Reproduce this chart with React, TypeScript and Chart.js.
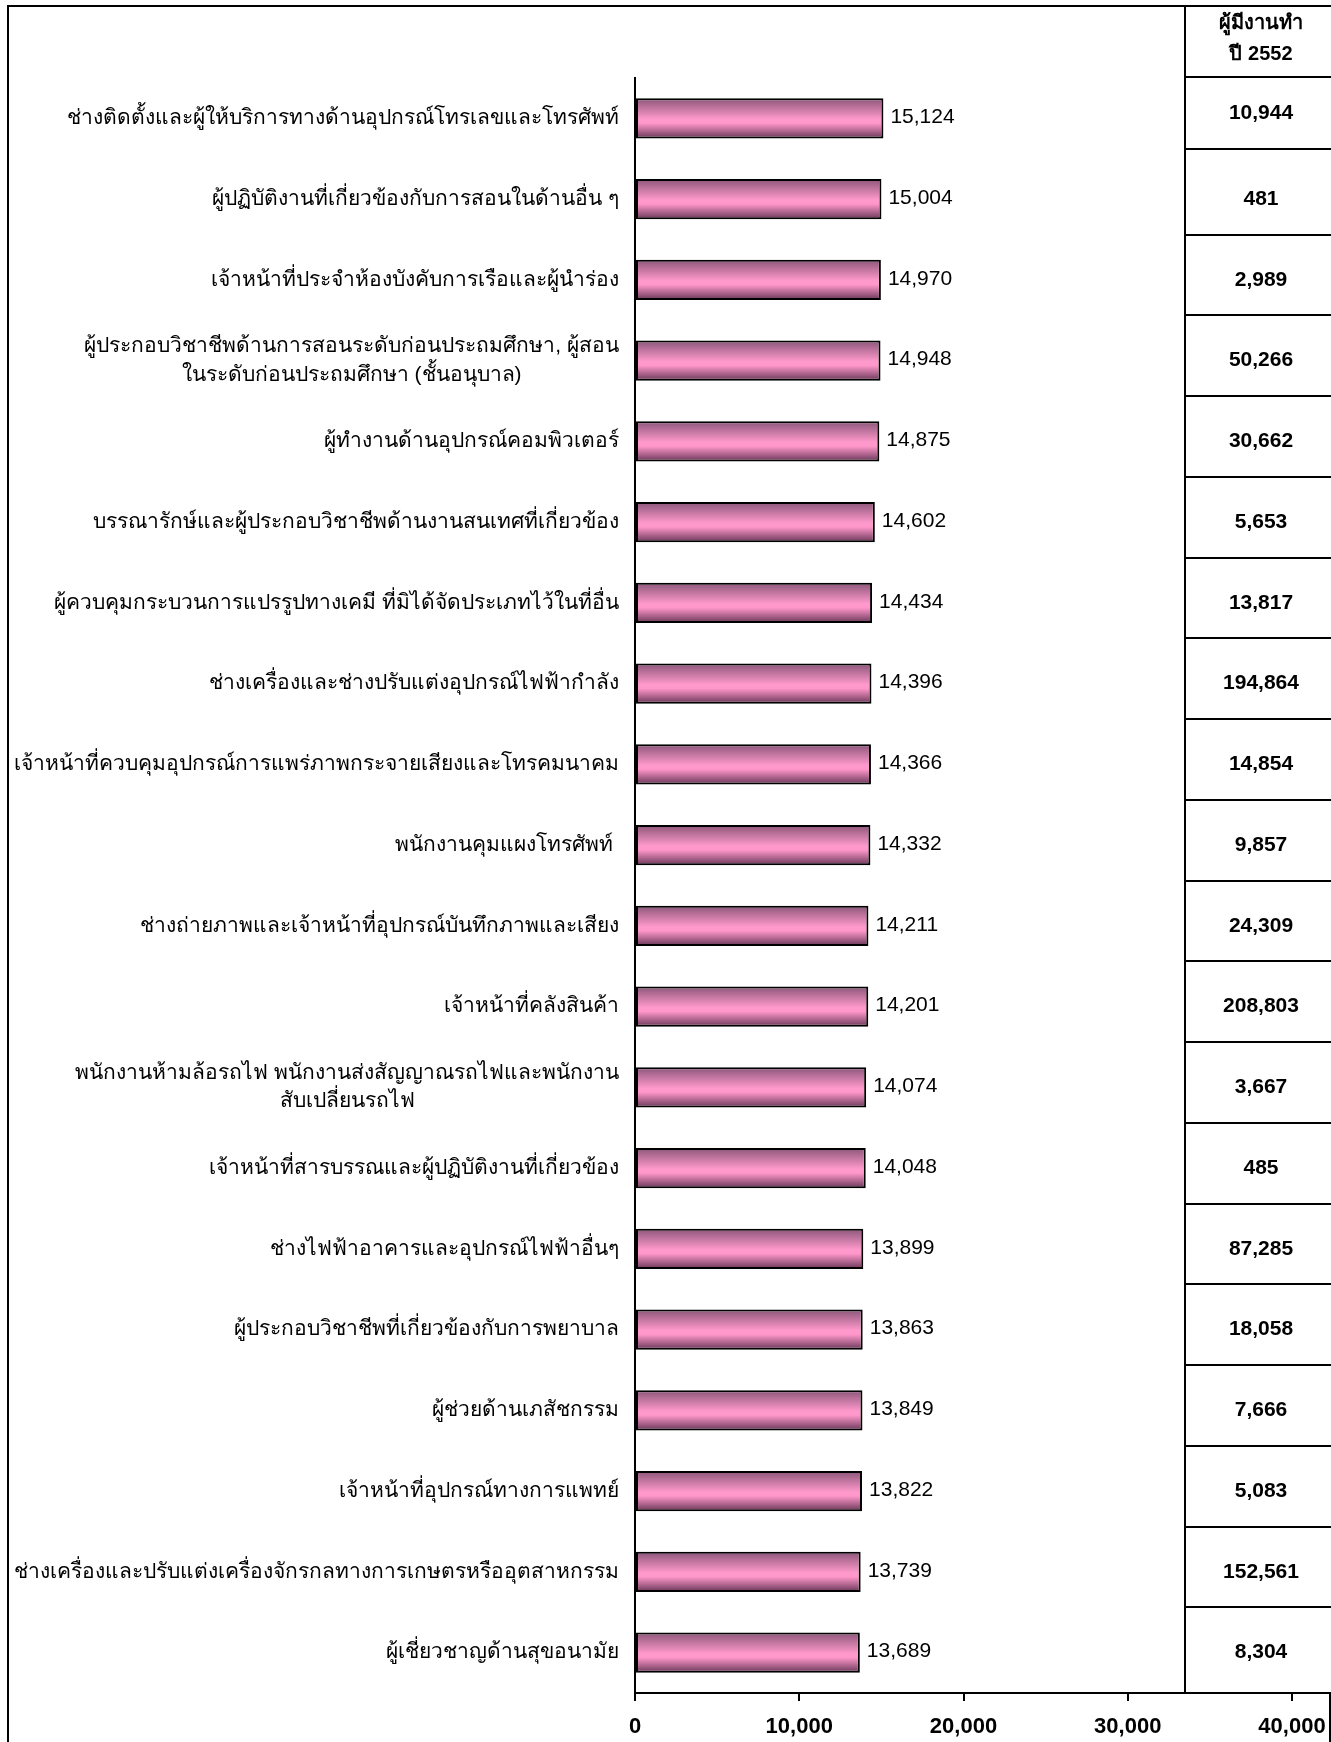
import React, { useEffect, useRef } from 'react';
import { Chart, registerables } from 'chart.js';

Chart.register(...registerables);

// ---------- data ----------
const CATEGORIES: string[][] = [
  ['ช่างติดตั้งและผู้ให้บริการทางด้านอุปกรณ์โทรเลขและโทรศัพท์'],
  ['ผู้ปฏิบัติงานที่เกี่ยวข้องกับการสอนในด้านอื่น ๆ'],
  ['เจ้าหน้าที่ประจำห้องบังคับการเรือและผู้นำร่อง'],
  ['ผู้ประกอบวิชาชีพด้านการสอนระดับก่อนประถมศึกษา, ผู้สอน', 'ในระดับก่อนประถมศึกษา (ชั้นอนุบาล)'],
  ['ผู้ทำงานด้านอุปกรณ์คอมพิวเตอร์'],
  ['บรรณารักษ์และผู้ประกอบวิชาชีพด้านงานสนเทศที่เกี่ยวข้อง'],
  ['ผู้ควบคุมกระบวนการแปรรูปทางเคมี ที่มิได้จัดประเภทไว้ในที่อื่น'],
  ['ช่างเครื่องและช่างปรับแต่งอุปกรณ์ไฟฟ้ากำลัง'],
  ['เจ้าหน้าที่ควบคุมอุปกรณ์การแพร่ภาพกระจายเสียงและโทรคมนาคม'],
  ['พนักงานคุมแผงโทรศัพท์ '],
  ['ช่างถ่ายภาพและเจ้าหน้าที่อุปกรณ์บันทึกภาพและเสียง'],
  ['เจ้าหน้าที่คลังสินค้า'],
  ['พนักงานห้ามล้อรถไฟ พนักงานส่งสัญญาณรถไฟและพนักงาน', 'สับเปลี่ยนรถไฟ'],
  ['เจ้าหน้าที่สารบรรณและผู้ปฏิบัติงานที่เกี่ยวข้อง'],
  ['ช่างไฟฟ้าอาคารและอุปกรณ์ไฟฟ้าอื่นๆ'],
  ['ผู้ประกอบวิชาชีพที่เกี่ยวข้องกับการพยาบาล'],
  ['ผู้ช่วยด้านเภสัชกรรม'],
  ['เจ้าหน้าที่อุปกรณ์ทางการแพทย์'],
  ['ช่างเครื่องและปรับแต่งเครื่องจักรกลทางการเกษตรหรืออุตสาหกรรม'],
  ['ผู้เชี่ยวชาญด้านสุขอนามัย'],
];

const WAGES: number[] = [
  15124, 15004, 14970, 14948, 14875, 14602, 14434, 14396, 14366, 14332,
  14211, 14201, 14074, 14048, 13899, 13863, 13849, 13822, 13739, 13689,
];

const EMPLOYED_2552: number[] = [
  10944, 481, 2989, 50266, 30662, 5653, 13817, 194864, 14854, 9857,
  24309, 208803, 3667, 485, 87285, 18058, 7666, 5083, 152561, 8304,
];

const TABLE_HEADER: string[] = ['ผู้มีงานทำ', 'ปี 2552'];

const X_MIN = 0;
const X_MAX = 40000;
const X_STEP = 10000;

// ---------- layout / style ----------
const W = 1331;
const H = 1742;
const FONT = "'Liberation Sans', Arial, sans-serif";
const fmt = (v: number) => Number(v).toLocaleString('en-US');

const gradientFill = (c: any) => {
  const chart = c.chart;
  const ys = chart.scales && chart.scales.y;
  if (!ys || c.type !== 'data') return '#ff99cc';
  const cy = ys.getPixelForValue(c.dataIndex);
  const band = Math.abs(ys.getPixelForValue(1) - ys.getPixelForValue(0));
  const h = band * 0.5;
  if (!isFinite(cy) || !isFinite(h) || h <= 0) return '#ff99cc';
  const g = chart.ctx.createLinearGradient(0, cy - h / 2, 0, cy + h / 2);
  g.addColorStop(0, '#8a5578');
  g.addColorStop(0.52, '#ff99cc');
  g.addColorStop(0.62, '#ff97ca');
  g.addColorStop(1, '#663656');
  return g;
};

const bgPlugin = {
  id: 'bg',
  beforeDraw(chart: any) {
    const ctx = chart.ctx;
    ctx.save();
    ctx.fillStyle = '#fff';
    ctx.fillRect(0, 0, W, H);
    ctx.restore();
  },
};

const labelsPlugin = {
  id: 'labels',
  afterDatasetsDraw(chart: any) {
    const ctx = chart.ctx;
    const ys = chart.scales.y;
    ctx.save();
    ctx.fillStyle = '#000';
    ctx.font = `21px ${FONT}`;
    ctx.textAlign = 'left';
    ctx.textBaseline = 'middle';
    const meta = chart.getDatasetMeta(0);
    meta.data.forEach((el: any, i: number) => {
      ctx.fillText(fmt(WAGES[i]), el.x + 7, el.y - 1);
    });
    ctx.font = `21px ${FONT}`;
    ctx.textAlign = 'center';
    const right = ys.right - 16;
    const lh = 28.5;
    CATEGORIES.forEach((lines, i) => {
      const cy = ys.getPixelForValue(i);
      const maxW = Math.max(...lines.map((l) => ctx.measureText(l).width));
      const cx = right - maxW / 2;
      lines.forEach((l, k) => {
        const y = cy + (k - (lines.length - 1) / 2) * lh;
        ctx.fillText(l, cx, y);
      });
    });
    ctx.restore();
  },
};

const tablePlugin = {
  id: 'table',
  afterDraw(chart: any) {
    const ctx = chart.ctx;
    const ys = chart.scales.y;
    const area = chart.chartArea;
    const left = 1185;
    const top = 6;
    const bottom = area.bottom;
    ctx.save();
    ctx.strokeStyle = '#000';
    ctx.lineWidth = 2;
    ctx.strokeRect(8, top, 1322, H + 10);
    ctx.fillStyle = '#fff';
    ctx.fillRect(left, top + 1, W - left, bottom - top - 1);
    ctx.beginPath();
    ctx.moveTo(left, top);
    ctx.lineTo(left, bottom);
    ctx.stroke();
    const lines: number[] = [];
    lines.push(Math.round(ys.getPixelForValue(-0.5)) - 1);
    for (let i = 1; i < EMPLOYED_2552.length; i++) {
      lines.push(Math.round(ys.getPixelForValue(i - 0.5)) - (i === 1 ? 10 : 5));
    }
    lines.push(bottom);
    lines.forEach((y) => {
      ctx.beginPath();
      ctx.moveTo(left, y);
      ctx.lineTo(W, y);
      ctx.stroke();
    });
    ctx.fillStyle = '#000';
    ctx.textAlign = 'center';
    ctx.textBaseline = 'middle';
    ctx.font = `bold 20px ${FONT}`;
    const cx = 1261;
    const hMid = (top + lines[0]) / 2 - 3;
    TABLE_HEADER.forEach((t, k) => {
      ctx.fillText(t, cx, hMid + (k - (TABLE_HEADER.length - 1) / 2) * 31);
    });
    ctx.font = `bold 21px ${FONT}`;
    EMPLOYED_2552.forEach((v, i) => {
      ctx.fillText(fmt(v), cx, ys.getPixelForValue(i) + (i === 0 ? -5 : 0));
    });
    ctx.restore();
  },
};

export default function App() {
  const ref = useRef<HTMLCanvasElement>(null);
  useEffect(() => {
    document.body.style.margin = '0';
    const canvas = ref.current;
    if (!canvas) return;
    const chart = new Chart(canvas, {
      type: 'bar',
      data: {
        labels: CATEGORIES.map((c) => c.join(' ')),
        datasets: [
          {
            data: WAGES,
            backgroundColor: gradientFill as any,
            borderColor: '#000',
            borderWidth: 2,
            borderSkipped: false,
            barPercentage: 0.5,
            categoryPercentage: 1,
          },
        ],
      },
      options: {
        indexAxis: 'y',
        responsive: false,
        maintainAspectRatio: false,
        animation: false,
        layout: { padding: { top: 78, right: 39, left: 0, bottom: 0 } },
        plugins: {
          legend: { display: false },
          tooltip: { enabled: false },
        },
        scales: {
          x: {
            type: 'linear',
            min: X_MIN,
            max: X_MAX,
            ticks: {
              stepSize: X_STEP,
              color: '#000',
              padding: 13,
              font: { family: FONT, size: 22, weight: 'bold' },
              callback: (v: any) => fmt(Number(v)),
            },
            grid: {
              drawOnChartArea: false,
              drawTicks: true,
              tickLength: 8,
              color: '#000',
              lineWidth: 2,
            },
            border: { display: true, color: '#000', width: 2 },
            afterFit: (s: any) => {
              s.height = 49;
              s.paddingLeft = 0;
              s.paddingRight = 0;
            },
          },
          y: {
            type: 'category',
            offset: true,
            ticks: { display: false },
            grid: { display: false },
            border: { display: true, color: '#000', width: 2 },
            afterFit: (s: any) => {
              s.width = 635;
              s.paddingTop = 0;
              s.paddingBottom = 0;
            },
          },
        },
      },
      plugins: [bgPlugin, labelsPlugin, tablePlugin],
    });
    return () => chart.destroy();
  }, []);
  return (
    <div style={{ position: 'absolute', left: 0, top: 0, width: W, height: H }}>
      <canvas ref={ref} width={W} height={H} style={{ display: 'block', width: W, height: H }} />
    </div>
  );
}
